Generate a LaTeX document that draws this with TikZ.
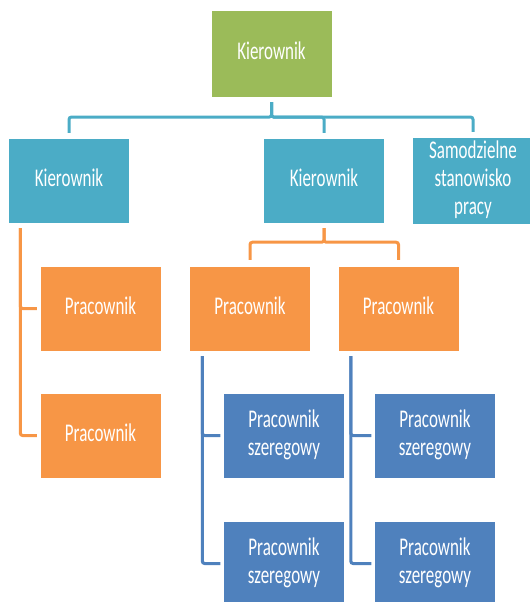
\documentclass[tikz,border=0pt]{standalone}
\usepackage{fontspec}
\setmainfont{Carlito}
\usepackage{graphicx}
\usepackage{xcolor}
\usepackage{tikz}
\usetikzlibrary{positioning, calc}

\definecolor{zielony}{HTML}{9BBB59}
\definecolor{turkus}{HTML}{4BACC6}
\definecolor{pomarancz}{HTML}{F79646}
\definecolor{niebieski}{HTML}{4F81BD}

\newcommand{\tallt}[1]{\scalebox{1}[1.5]{\begin{tabular}{@{}c@{}}#1\end{tabular}}}

\begin{document}
\begin{tikzpicture}[
    font=\fontsize{14.5}{16}\selectfont,
    box/.style={
        rectangle,
        draw=white,
        line width=0.4pt,
        text=white,
        minimum width=3.63cm,
        minimum height=2.55cm,
        inner sep=1pt,
        align=center
    },
    cline/.style={draw=turkus, line width=0.09cm, rounded corners=2pt, shorten <=0.15cm, shorten >=0.15cm},
    oline/.style={draw=pomarancz, line width=0.09cm, rounded corners=2pt, shorten <=0.15cm, shorten >=0.18cm},
    bline/.style={draw=niebieski, line width=0.09cm, rounded corners=2pt, shorten <=0.15cm, shorten >=0.09cm}
]

\useasboundingbox (0, 0) rectangle (15.9, -18.06);

% poziom 1
\node[box, fill=zielony, minimum height=2.6cm] (szef) at (8.145, -1.605) {\tallt{Kierownik}};

% poziom 2
\node[box, fill=turkus] (kier1) at (2.07,  -5.415) {\tallt{Kierownik}};
\node[box, fill=turkus] (kier2) at (9.72,  -5.415) {\tallt{Kierownik}};
\node[box, fill=turkus] (samo)  at (14.19, -5.415) {\tallt{Samodzielne\\stanowisko\\pracy}};

% pracownicy
\node[box, fill=pomarancz] (prac1) at (3.015,  -9.255)  {\tallt{Pracownik}};
\node[box, fill=pomarancz] (prac2) at (3.015,  -13.065) {\tallt{Pracownik}};
\node[box, fill=pomarancz] (prac3) at (7.5,    -9.255)  {\tallt{Pracownik}};
\node[box, fill=pomarancz] (prac4) at (11.955, -9.255)  {\tallt{Pracownik}};

% pracownicy szeregowi
\node[box, fill=niebieski] (szer1) at (8.52,  -13.065) {\tallt{Pracownik\\szeregowy}};
\node[box, fill=niebieski] (szer2) at (8.52,  -16.905) {\tallt{Pracownik\\szeregowy}};
\node[box, fill=niebieski] (szer3) at (13.05, -13.065) {\tallt{Pracownik\\szeregowy}};
\node[box, fill=niebieski] (szer4) at (13.05, -16.905) {\tallt{Pracownik\\szeregowy}};

\draw[cline] (szef.south) -- ++(0, -0.6) -| (kier1.north);
\draw[cline] (szef.south) -- ++(0, -0.6) -| (kier2.north);
\draw[cline] (szef.south) -- ++(0, -0.6) -| (samo.north);

\draw[oline] (kier2.south) -- ++(0, -0.57) -| (prac3.north);
\draw[oline] (kier2.south) -- ++(0, -0.57) -| (prac4.north);

\draw[oline, shorten >=0.09cm] ([xshift=0.36cm]kier1.south west) |- (prac1.west);
\draw[oline, shorten >=0.09cm] ([xshift=0.36cm]kier1.south west) |- (prac2.west);

\draw[bline] ([xshift=0.39cm]prac3.south west) |- (szer1.west);
\draw[bline] ([xshift=0.39cm]prac3.south west) |- (szer2.west);
\draw[bline] ([xshift=0.39cm]prac4.south west) |- (szer3.west);
\draw[bline] ([xshift=0.39cm]prac4.south west) |- (szer4.west);

\end{tikzpicture}
\end{document}
